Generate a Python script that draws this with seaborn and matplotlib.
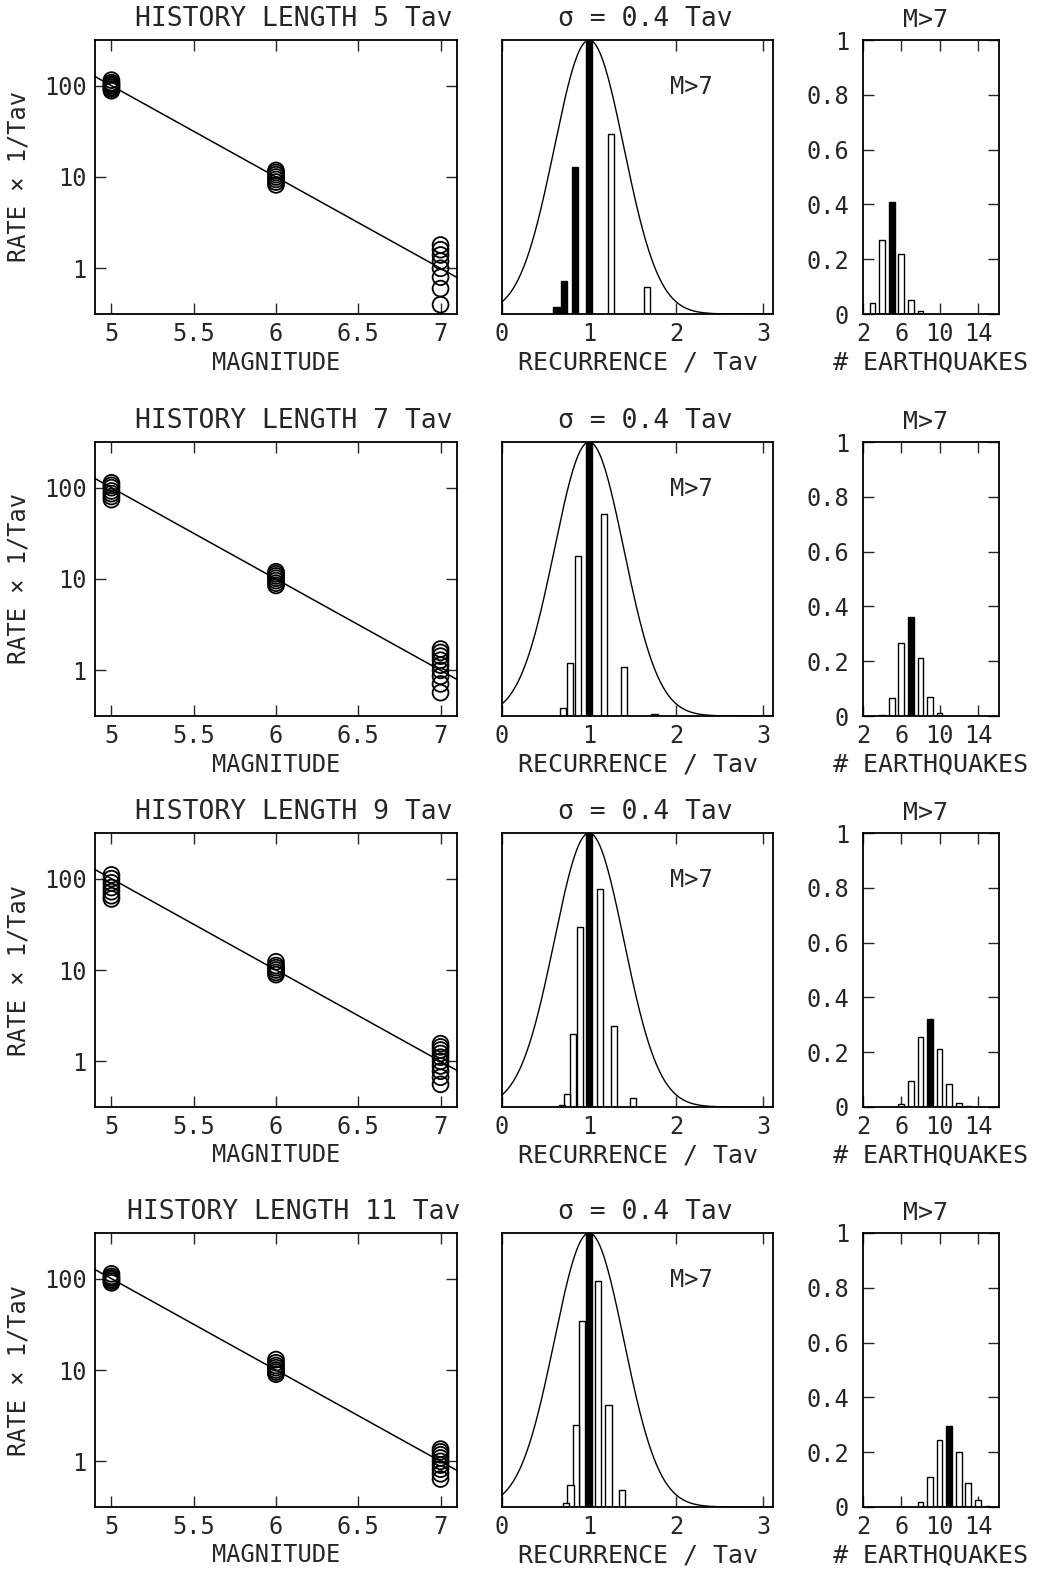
import numpy as np
import pandas as pd
import matplotlib
matplotlib.use('Agg')
import matplotlib.pyplot as plt
import seaborn as sns

# history lengths (in units of Tav), one row each
history = [5, 7, 9, 11]

# magnitude / rate points (rate x 1/Tav)
mag_levels = [5, 6, 7]
rates_m5 = [
    [88, 92, 96, 100, 104, 108, 115],
    [74, 80, 86, 92, 100, 106, 113],
    [60, 65, 72, 80, 90, 100, 110],
    [90, 94, 98, 102, 106, 113],
]
rates_m6 = [
    [8.2, 8.8, 9.4, 10.0, 10.6, 11.2, 11.8],
    [8.5, 9.0, 9.6, 10.2, 10.8, 11.4, 12.0],
    [8.9, 9.4, 10.0, 10.6, 11.2, 12.3],
    [9.0, 9.5, 10.0, 10.6, 11.2, 12.0, 13.0],
]
rates_m7 = [
    [0.4, 0.6, 0.8, 1.0, 1.2, 1.4, 1.6, 1.8],
    [0.57, 0.71, 0.86, 1.0, 1.14, 1.29, 1.43, 1.57, 1.71],
    [0.56, 0.67, 0.78, 0.89, 1.0, 1.11, 1.22, 1.33, 1.44, 1.56],
    [0.64, 0.73, 0.82, 0.91, 1.0, 1.09, 1.18, 1.27, 1.36],
]
# Gutenberg-Richter reference line: log10(rate) = a - b*M
gr_a = 7.0
gr_b = 1.0
fit_mag = [4.9, 7.1]

# number of M>7 earthquakes in the history and their probabilities
eq_counts = [
    [3, 4, 5, 6, 7, 8],
    [4, 5, 6, 7, 8, 9, 10],
    [6, 7, 8, 9, 10, 11, 12, 13],
    [8, 9, 10, 11, 12, 13, 14, 15],
]
eq_probs = [
    [0.04, 0.27, 0.41, 0.22, 0.05, 0.01],
    [0.002, 0.064, 0.265, 0.36, 0.21, 0.07, 0.01],
    [0.01, 0.095, 0.255, 0.32, 0.21, 0.085, 0.015, 0.002],
    [0.018, 0.11, 0.243, 0.295, 0.2, 0.088, 0.024, 0.004],
]
# counts drawn solid in the recurrence panel
solid_counts = [[5, 6, 7, 8], [7], [9], [11]]

# recurrence distribution
rec_mean = 1.0
rec_sigma = 0.4

sns.set_style('ticks')
plt.rcParams['font.family'] = ['DejaVu Sans Mono', 'DejaVu Sans']
plt.rcParams['axes.linewidth'] = 1.3

fig = plt.figure(figsize=(10.54, 15.72), dpi=100)

W, H = 1054, 1572
tops = [40, 442, 833, 1233]
ax_h = 274
FS = 17


def box(x0, x1, top):
    return [x0 / W, 1 - (top + ax_h) / H, (x1 - x0) / W, ax_h / H]


def style(ax):
    ax.tick_params(direction='in', top=True, right=True, length=8, width=1,
                   labelsize=FS, pad=6)
    for s in ax.spines.values():
        s.set_color('black')


def magnitude_panel(ax, i):
    df = pd.DataFrame({
        'magnitude': [5] * len(rates_m5[i]) + [6] * len(rates_m6[i]) + [7] * len(rates_m7[i]),
        'rate': rates_m5[i] + rates_m6[i] + rates_m7[i],
    })
    ax.set_yscale('log')
    line = pd.DataFrame({'magnitude': fit_mag})
    line['rate'] = 10 ** (gr_a - gr_b * line['magnitude'])
    sns.lineplot(data=line, x='magnitude', y='rate', color='black', linewidth=1.1, ax=ax)
    sns.scatterplot(data=df, x='magnitude', y='rate', marker='o', s=130,
                    color='black', facecolors='none', edgecolor='black',
                    linewidth=1.3, ax=ax, legend=False)
    ax.collections[-1].set_facecolor('none')
    ax.set_xlim(4.9, 7.1)
    ax.set_ylim(10 ** -0.5, 10 ** 2.5)
    ax.set_xticks([5, 5.5, 6, 6.5, 7])
    ax.set_xticklabels(['5', '5.5', '6', '6.5', '7'])
    ax.set_yticks([1, 10, 100])
    ax.set_yticklabels(['1', '10', '100'])
    ax.minorticks_off()
    style(ax)
    ax.set_xlabel('MAGNITUDE', fontsize=FS, labelpad=3)
    ax.set_ylabel('RATE × 1/Tav', fontsize=FS, labelpad=10)
    ax.text(0.55, 1.03, f'HISTORY LENGTH {history[i]} Tav', transform=ax.transAxes,
            ha='center', va='bottom', fontsize=FS + 2)


def recurrence_panel(ax, i):
    counts = np.array(eq_counts[i])
    probs = np.array(eq_probs[i])
    pos = history[i] / counts
    hts = probs / probs.max()
    fills = ['black' if c in solid_counts[i] else 'white' for c in counts]
    ax.bar(pos, hts, width=0.07, color=fills, edgecolor='black', linewidth=1.0)
    xs = np.linspace(0, 3.11, 300)
    curve = np.exp(-0.5 * ((xs - rec_mean) / rec_sigma) ** 2)
    sns.lineplot(x=xs, y=curve, color='black', linewidth=1.0, ax=ax)
    ax.set_xlim(0, 3.11)
    ax.set_ylim(0, 1.0)
    ax.set_xticks([0, 1, 2, 3])
    ax.set_xticklabels(['0', '1', '2', '3'])
    style(ax)
    ax.tick_params(axis='y', left=False, right=False, labelleft=False)
    ax.set_xlabel('RECURRENCE / Tav', fontsize=FS + 1, labelpad=3)
    ax.text(2.17, 0.83, 'M>7', fontsize=FS, ha='center', va='center')
    ax.text(0.53, 1.03, f'σ = {rec_sigma} Tav', transform=ax.transAxes,
            ha='center', va='bottom', fontsize=FS + 2)


def count_panel(ax, i):
    counts = eq_counts[i]
    fills = ['black' if c == history[i] else 'white' for c in counts]
    ax.bar(counts, eq_probs[i], width=0.6, color=fills, edgecolor='black', linewidth=1.0)
    ax.set_xlim(2, 16.2)
    ax.set_ylim(0, 1)
    ax.set_xticks([2, 6, 10, 14])
    ax.set_xticklabels(['2', '6', '10', '14'])
    ax.set_yticks([0, 0.2, 0.4, 0.6, 0.8, 1])
    ax.set_yticklabels(['0', '0.2', '0.4', '0.6', '0.8', '1'])
    style(ax)
    ax.tick_params(axis='y', pad=10)
    ax.set_xlabel('# EARTHQUAKES', fontsize=FS + 1, labelpad=3)
    ax.text(0.46, 1.03, 'M>7', transform=ax.transAxes,
            ha='center', va='bottom', fontsize=FS + 1)


for i, top in enumerate(tops):
    magnitude_panel(fig.add_axes(box(95, 457, top)), i)
    recurrence_panel(fig.add_axes(box(502, 773, top)), i)
    count_panel(fig.add_axes(box(863, 999, top)), i)

fig.savefig('out.png', dpi=100, facecolor='white')
